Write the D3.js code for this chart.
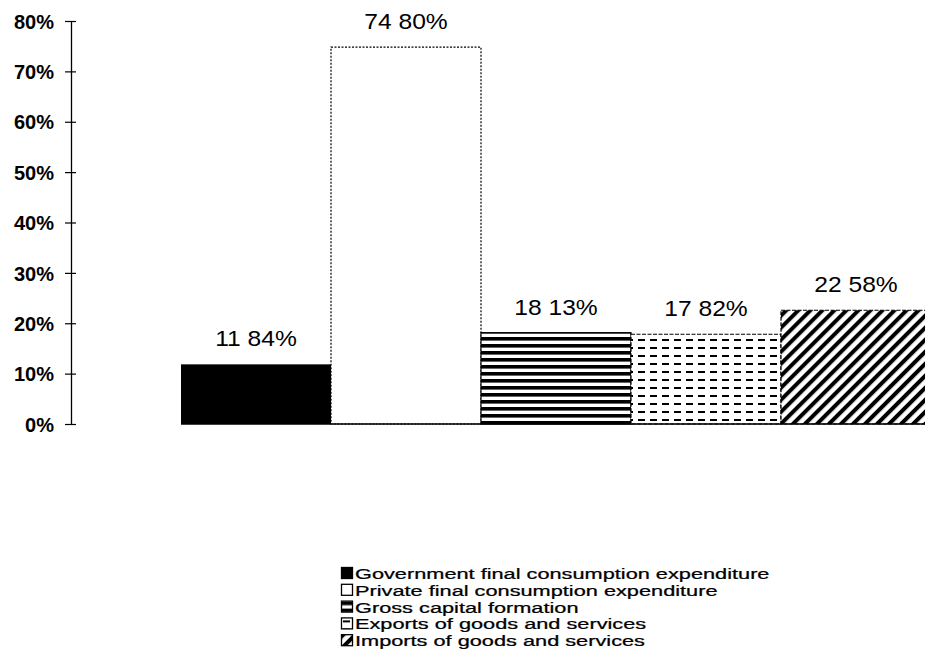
<!DOCTYPE html>
<html><head><meta charset="utf-8">
<script src="https://cdn.jsdelivr.net/npm/d3@7"></script>
<style>body{margin:0;background:#fff}svg{display:block}</style>
</head><body>
<svg id="c" width="925" height="668"></svg>
<script>
const categories = ["Government final consumption expenditure","Private final consumption expenditure","Gross capital formation","Exports of goods and services","Imports of goods and services"];
const values = [11.84, 74.80, 18.13, 17.82, 22.58];
const tickValues = [0,10,20,30,40,50,60,70,80];
const fills = ["solid","blank","hstripe","dash","diag"];

const svg = d3.select("#c");
const defs = svg.append("defs");
let p = defs.append("pattern").attr("id","hstripe").attr("patternUnits","userSpaceOnUse").attr("width",10).attr("height",7).attr("y",1);
p.append("rect").attr("width",10).attr("height",7).attr("fill","#fff");
p.append("rect").attr("width",10).attr("height",3.6).attr("fill","#000");
p = defs.append("pattern").attr("id","dash").attr("patternUnits","userSpaceOnUse").attr("width",12).attr("height",8).attr("x",2).attr("y",3);
p.append("rect").attr("width",12).attr("height",8).attr("fill","#fff");
p.append("rect").attr("width",7).attr("height",2).attr("fill","#000");
p = defs.append("pattern").attr("id","diag").attr("patternUnits","userSpaceOnUse").attr("width",8.5).attr("height",10).attr("patternTransform","rotate(45)");
p.append("rect").attr("width",8.5).attr("height",10).attr("fill","#fff");
p.append("rect").attr("width",4).attr("height",10).attr("fill","#000");

const fillOf = f => f==="solid" ? "#000" : f==="blank" ? "#fff" : `url(#${f})`;

const x = d3.scaleBand().domain(categories).range([181, 931]).padding(0);
const y = d3.scaleLinear().domain([0, 80]).range([424, 21]);

const yAxis = d3.axisLeft(y).tickValues(tickValues).tickFormat(d => d + "%").tickSize(6).tickSizeOuter(0);
const ga = svg.append("g").attr("transform","translate(71,0)").call(yAxis);
ga.select(".domain").attr("stroke","#000").attr("stroke-width",1.3);
ga.selectAll(".tick line").attr("stroke","#000").attr("x2",-6).attr("x1",5).attr("stroke-width",1.2);
ga.selectAll(".tick text").attr("x",-17).attr("dy","0.36em").attr("font-family","Arial, 'Liberation Sans', sans-serif").attr("font-size","20px").attr("font-weight","bold").attr("fill","#000");

svg.append("g").selectAll("rect").data(categories).join("rect")
  .attr("x", d => x(d)).attr("width", x.bandwidth())
  .attr("y", (d,i) => y(values[i])).attr("height", (d,i) => y(0) - y(values[i]))
  .attr("fill", (d,i) => fillOf(fills[i]))
  .attr("stroke","#000").attr("stroke-width",(d,i)=> i===0?0:1.2)
  .attr("stroke-dasharray",(d,i)=> i===1?"2,1.5":(i>=3?"4,1.5":null));

svg.append("line").attr("x1", x.range()[0]).attr("x2", 925).attr("y1", y(0)).attr("y2", y(0)).attr("stroke","#000").attr("stroke-width",1.5);

svg.append("g").selectAll("text").data(categories).join("text")
  .attr("transform", (d,i) => `translate(${x(d)+x.bandwidth()/2},${y(values[i]) - 18}) scale(1.12,1)`)
  .attr("text-anchor","middle")
  .attr("font-family","Arial, 'Liberation Sans', sans-serif").attr("font-size","22px").attr("fill","#000")
  .text((d,i) => values[i].toFixed(2).replace(".", " ") + "%");

const lg = svg.append("g").attr("transform","translate(341,567)");
categories.forEach((c,i) => {
  const row = lg.append("g").attr("transform",`translate(0,${i*16.8})`);
  row.append("rect").attr("x",0.5).attr("y",0.5).attr("width",11).attr("height",11)
    .attr("fill", fillOf(fills[i])).attr("stroke","#000").attr("stroke-width",1.3);
  row.append("text").attr("transform","translate(14,12) scale(1.45,1)")
    .attr("font-family","Arial, 'Liberation Sans', sans-serif").attr("font-size","15px").attr("fill","#000")
    .attr("stroke","#000").attr("stroke-width",0.25)
    .text(c);
});
</script>
</body></html>
